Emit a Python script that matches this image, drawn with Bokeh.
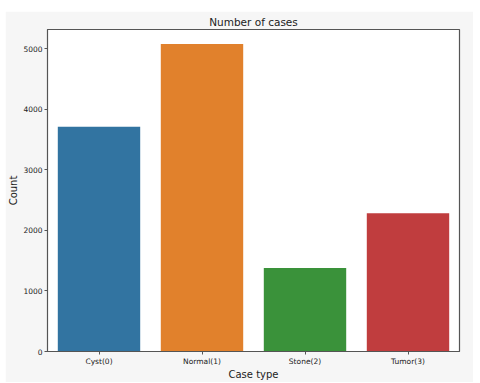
from bokeh.plotting import figure
from bokeh.models import ColumnDataSource, Range1d, FactorRange, Spacer
from bokeh.layouts import column, row
from bokeh.embed import file_html
from bokeh.resources import INLINE

categories = ["Cyst(0)", "Normal(1)", "Stone(2)", "Tumor(3)"]
counts = [3709, 5077, 1377, 2283]
colors = ["#3274a1", "#e1812c", "#3a923a", "#c03d3e"]
y_ticks = [0, 1000, 2000, 3000, 4000, 5000]

src = ColumnDataSource(dict(cat=categories, count=counts, color=colors))

FONT = "DejaVu Sans"
BG = "#f6f6f6"

p = figure(x_range=FactorRange(*categories, range_padding=0), y_range=Range1d(0, 5315),
           width=468, height=371, output_backend="svg", toolbar_location=None,
           min_border_left=42, min_border_right=14, min_border_top=18, min_border_bottom=31,
           background_fill_color="white", border_fill_color=BG)

p.vbar(x="cat", top="count", width=0.8, color="color", line_color=None, source=src)

p.title.text = "Number of cases"
p.title.align = "center"
p.title.text_font = FONT
p.title.text_font_size = "10.5px"
p.title.text_font_style = "normal"
p.title.text_color = "#222222"
p.title.standoff = 3

p.xgrid.visible = False
p.ygrid.visible = False
p.outline_line_color = "#555555"
p.outline_line_width = 1.2

for ax in (p.xaxis[0], p.yaxis[0]):
    ax.axis_line_color = "#555555"
    ax.major_tick_line_color = "#555555"
    ax.major_tick_out = 3
    ax.major_tick_in = 0
    ax.minor_tick_line_color = None
    ax.major_label_text_font = FONT
    ax.major_label_text_font_size = "7.5px"
    ax.major_label_text_color = "#222222"
    ax.major_label_standoff = 2
    ax.axis_label_text_font = FONT
    ax.axis_label_text_font_style = "normal"
    ax.axis_label_text_font_size = "10px"
    ax.axis_label_text_color = "#222222"

p.yaxis.ticker = y_ticks
p.yaxis.axis_label = "Count"
p.yaxis.axis_label_standoff = 1
p.xaxis.axis_label = "Case type"
p.xaxis.axis_label_standoff = 0
p.xaxis.group_text_font_size = "0px"

layout = column(Spacer(width=473, height=11),
                row(Spacer(width=5, height=371), p),
                spacing=0)

open("out.html", "w").write(file_html(layout, INLINE))
